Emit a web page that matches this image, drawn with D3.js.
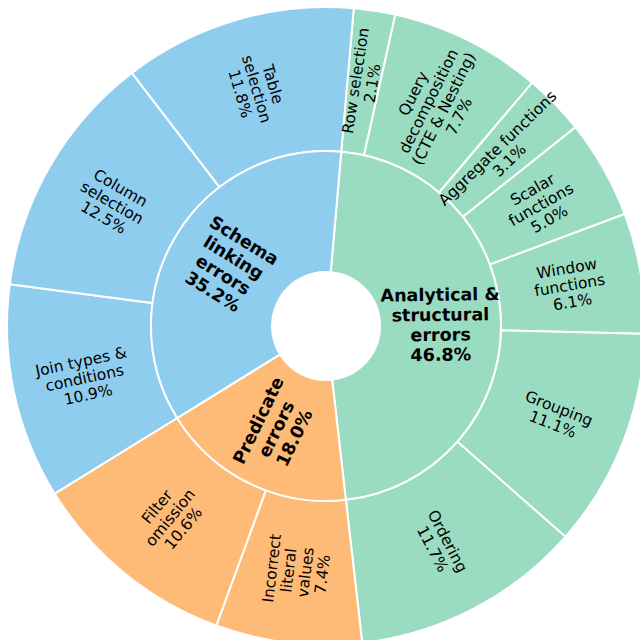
<!DOCTYPE html>
<html>
<head>
<meta charset="utf-8">
<script src="https://cdn.jsdelivr.net/npm/d3@7"></script>
<style>
  html, body { margin: 0; padding: 0; background: #ffffff; }
  svg { display: block; }
  text { font-family: "DejaVu Sans", sans-serif; fill: #000; }
</style>
</head>
<body>
<svg id="chart" width="640" height="640"></svg>
<script>
// ---- data ----
const groupNames = ["Analytical &\nstructural\nerrors", "Predicate\nerrors", "Schema\nlinking\nerrors"];
const groupValues = [46.8, 18.0, 35.2];
const groupColors = ["#9adcc2", "#fdbb77", "#8fcdef"];

const subNames = [
  "Row selection", "Query\ndecomposition\n(CTE & Nesting)", "Aggregate functions",
  "Scalar\nfunctions", "Window\nfunctions", "Grouping", "Ordering",
  "Incorrect\nliteral\nvalues", "Filter\nomission",
  "Join types &\nconditions", "Column\nselection", "Table\nselection"
];
const subValues = [2.1, 7.7, 3.1, 5.0, 6.1, 11.1, 11.7, 7.4, 10.6, 10.9, 12.5, 11.8];
const subGroup = [0, 0, 0, 0, 0, 0, 0, 1, 1, 2, 2, 2];

// ---- layout ----
const cx = 326, cy = 326;
const rHole = 54, rMid = 175, rOuter = 319;
const start = 5 * Math.PI / 180;

const svg = d3.select("#chart");
const g = svg.append("g").attr("transform", `translate(${cx},${cy})`);

const pie = d3.pie().sort(null).value(d => d.v)
  .startAngle(start).endAngle(start + 2 * Math.PI);

const inner = pie(groupValues.map((v, i) => ({ v, name: groupNames[i], i })));
const outer = pie(subValues.map((v, i) => ({ v, name: subNames[i], grp: subGroup[i] })));

const arcInner = d3.arc().innerRadius(rHole).outerRadius(rMid);
const arcOuter = d3.arc().innerRadius(rMid).outerRadius(rOuter);

g.selectAll("path.outer").data(outer).join("path")
  .attr("class", "outer")
  .attr("d", arcOuter)
  .attr("fill", d => groupColors[d.data.grp])
  .attr("stroke", "#fff").attr("stroke-width", 2);

g.selectAll("path.inner").data(inner).join("path")
  .attr("class", "inner")
  .attr("d", arcInner)
  .attr("fill", d => groupColors[d.data.i])
  .attr("stroke", "#fff").attr("stroke-width", 2);

function labelRot(d) {
  const a = (d.startAngle + d.endAngle) / 2 * 180 / Math.PI;
  let r = a - 90;
  while (r > 180) r -= 360;
  while (r < -180) r += 360;
  if (r > 90) r -= 180;
  if (r < -90) r += 180;
  return r;
}

function drawLabels(data, radius, size, lh, weight) {
  const sel = g.selectAll(null).data(data).join("g")
    .attr("transform", d => {
      const a = (d.startAngle + d.endAngle) / 2;
      const x = radius * Math.sin(a), y = -radius * Math.cos(a);
      return `translate(${x},${y}) rotate(${labelRot(d)})`;
    });
  const t = sel.append("text")
    .attr("text-anchor", "middle")
    .attr("font-size", size)
    .attr("font-weight", weight);
  t.each(function(d) {
    const lines = (d.data.name + "\n" + d.data.v.toFixed(1) + "%").split("\n");
    const n = lines.length;
    d3.select(this).selectAll("tspan").data(lines).join("tspan")
      .attr("x", 0)
      .attr("y", (s, i) => (i - (n - 1) / 2) * lh + size * 0.36)
      .text(s => s);
  });
}

drawLabels(outer, (rMid + rOuter) / 2, 15.5, 17, "normal");
drawLabels(inner, (rHole + rMid) / 2, 17.5, 20, "bold");
</script>
</body>
</html>
